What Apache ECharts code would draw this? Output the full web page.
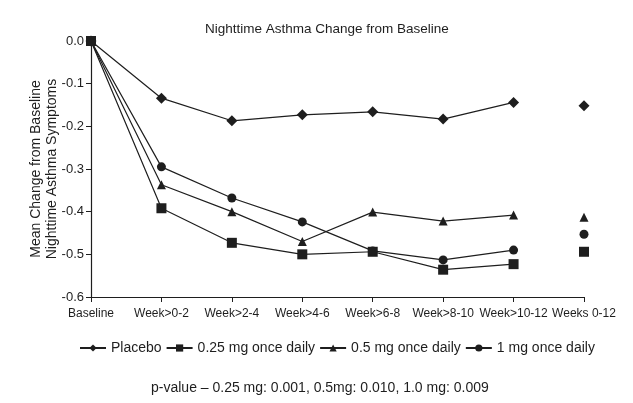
<!DOCTYPE html>
<html>
<head>
<meta charset="utf-8">
<script src="https://cdn.jsdelivr.net/npm/echarts@6/dist/echarts.min.js"></script>
<style>
  html, body { margin: 0; padding: 0; background: #fff; }
  #chart { width: 633px; height: 403px; }
</style>
</head>
<body>
<div id="chart"></div>
<script>
// Visit categories along the x axis
const categories = ['Baseline', 'Week>0-2', 'Week>2-4', 'Week>4-6', 'Week>6-8', 'Week>8-10', 'Week>10-12', 'Weeks 0-12'];
const yTicks = [0, -0.1, -0.2, -0.3, -0.4, -0.5, -0.6];

// Mean change by visit (Baseline .. Week>10-12), joined by lines
const placebo   = [0, -0.134, -0.187, -0.173, -0.166, -0.183, -0.144];
const dose025   = [0, -0.392, -0.473, -0.500, -0.494, -0.536, -0.523];
const dose05    = [0, -0.337, -0.400, -0.470, -0.401, -0.422, -0.408];
const dose1     = [0, -0.295, -0.368, -0.424, -0.492, -0.513, -0.490];

// Overall (Weeks 0-12) values, drawn as stand-alone markers
const placeboOverall = -0.152;
const dose025Overall = -0.494;
const dose05Overall  = -0.413;
const dose1Overall   = -0.453;

const seriesNames = ['Placebo', '0.25 mg once daily', '0.5 mg once daily', '1 mg once daily'];

const ink = '#1e1e1e';
const font = '"Liberation Sans", Arial, sans-serif';

function lineSeries(name, values, symbol, size) {
  return {
    name: name,
    type: 'line',
    data: values,
    symbol: symbol,
    symbolSize: size,
    lineStyle: { color: ink, width: 1.2 },
    itemStyle: { color: ink, opacity: 1 },
    animation: false,
    z: 3
  };
}

function overallPoint(name, value, symbol, size) {
  const data = categories.map((c, i) => (i === categories.length - 1 ? value : null));
  return {
    name: name,
    type: 'scatter',
    data: data,
    symbol: symbol,
    symbolSize: size,
    itemStyle: { color: ink, opacity: 1 },
    animation: false,
    z: 3
  };
}

const chart = echarts.init(document.getElementById('chart'), null, { renderer: 'canvas' });

chart.setOption({
  backgroundColor: '#fff',
  textStyle: { fontFamily: font },
  title: {
    text: 'Nighttime Asthma Change from Baseline',
    left: 200,
    top: 17,
    textStyle: { fontFamily: font, fontSize: 13.5, fontWeight: 'normal', color: ink }
  },
  graphic: [{
    type: 'text',
    left: 151,
    top: 381,
    style: {
      text: 'p-value – 0.25 mg: 0.001, 0.5mg: 0.010, 1.0 mg: 0.009',
      fontFamily: font,
      fontSize: 14,
      fill: ink
    }
  }],
  legend: {
    data: seriesNames,
    top: 336,
    left: 74,
    itemWidth: 26,
    itemHeight: 9,
    itemGap: 4,
    textStyle: { fontFamily: font, fontSize: 14, color: ink },
    inactiveColor: ink
  },
  grid: { left: 91, right: 49, top: 41, bottom: 106, containLabel: false },
  xAxis: {
    type: 'category',
    data: categories,
    boundaryGap: false,
    axisLine: { onZero: false, lineStyle: { color: ink, width: 1.2 } },
    axisTick: { show: true, alignWithLabel: true, length: 5, lineStyle: { color: ink } },
    axisLabel: { color: ink, fontFamily: font, fontSize: 12, margin: 11, interval: 0 },
    splitLine: { show: false }
  },
  yAxis: {
    type: 'value',
    min: -0.6,
    max: 0,
    interval: 0.1,
    name: 'Mean Change from Baseline\nNighttime Asthma Symptoms',
    nameLocation: 'middle',
    nameGap: 31,
    nameMoveOverlap: false,
    nameTextStyle: { fontFamily: font, fontSize: 14, color: ink, lineHeight: 16 },
    axisLine: { show: true, lineStyle: { color: ink, width: 1.2 } },
    axisTick: { show: true, length: 5, lineStyle: { color: ink } },
    axisLabel: {
      color: ink,
      fontFamily: font,
      fontSize: 13,
      margin: 7,
      formatter: v => v.toFixed(1)
    },
    splitLine: { show: false }
  },
  series: [
    lineSeries(seriesNames[0], placebo, 'diamond', 11),
    lineSeries(seriesNames[1], dose025, 'rect', 10),
    lineSeries(seriesNames[2], dose05, 'triangle', 9),
    lineSeries(seriesNames[3], dose1, 'circle', 9),
    overallPoint(seriesNames[0], placeboOverall, 'diamond', 11),
    overallPoint(seriesNames[1], dose025Overall, 'rect', 10),
    overallPoint(seriesNames[2], dose05Overall, 'triangle', 9),
    overallPoint(seriesNames[3], dose1Overall, 'circle', 9)
  ]
});
</script>
</body>
</html>
